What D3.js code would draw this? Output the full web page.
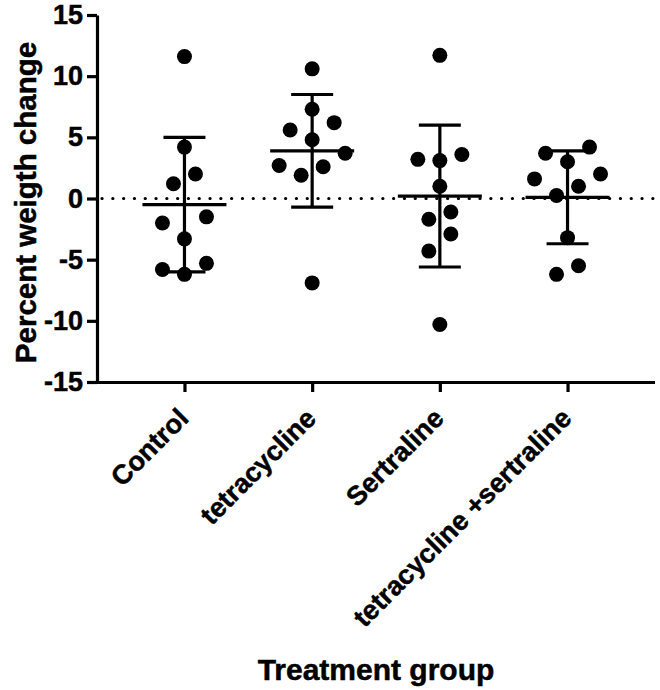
<!DOCTYPE html>
<html>
<head>
<meta charset="utf-8">
<script src="https://cdn.jsdelivr.net/npm/d3@7"></script>
<style>
  html, body { margin: 0; padding: 0; background: #fff; }
  svg { display: block; }
  text { font-family: "Liberation Sans", Arial, Helvetica, sans-serif; font-weight: bold; fill: #000; stroke: #000; stroke-width: 0.5px; }
</style>
</head>
<body>
<svg id="chart" width="660" height="690"></svg>
<script>
// ---- data ----
const categories = ["Control", "tetracycline", "Sertraline", "tetracycline +sertraline"];
const controlValues = [11.6, 4.2, 2.0, 1.2, -1.5, -2.0, -3.3, -5.3, -5.8, -6.2];
const tetracyclineValues = [10.6, 7.3, 6.2, 5.6, 4.8, 3.7, 2.7, 2.6, 1.9, -6.9];
const sertralineValues = [11.7, 3.6, 3.2, 3.1, 1.0, -1.1, -1.7, -2.9, -4.3, -10.3];
const comboValues = [4.2, 3.7, 3.0, 2.0, 1.6, 1.0, 0.25, -3.2, -5.5, -6.2];
const groupMeans = [-0.5, 3.9, 0.2, 0.1];
const groupSDs = [5.5, 4.6, 5.8, 3.8];
const yTicks = [-15, -10, -5, 0, 5, 10, 15];
const yLabel = "Percent weigth change";
const xLabel = "Treatment group";

const seriesValues = [controlValues, tetracyclineValues, sertralineValues, comboValues];

// ---- layout ----
const svg = d3.select("#chart");
const plotLeft = 97, plotRight = 655, plotTop = 15, plotBottom = 382;

const x = d3.scalePoint().domain(categories).range([plotLeft, plotRight]).padding(0.685);
const y = d3.scaleLinear().domain([-15, 15]).range([plotBottom, plotTop]);

const dotR = 7.5;
const laneGap = 22;    // horizontal gap between dots within a row
const rowSpan = 23;    // pixel span that groups dots into one row

// Column-scatter layout: group ascending values into rows, fill each row from the centre outward
function swarm(values) {
  const sorted = values.map((v, i) => ({ v, i })).sort((a, b) => a.v - b.v);
  const rows = [];
  let cur = [];
  sorted.forEach(p => {
    if (cur.length && (y(cur[0].v) - y(p.v)) >= rowSpan) { rows.push(cur); cur = []; }
    cur.push(p);
  });
  if (cur.length) rows.push(cur);
  const out = [];
  rows.forEach(row => {
    const n = row.length;
    const offs = d3.range(n).map(k => (k - (n - 1) / 2) * laneGap)
      .sort((a, b) => (Math.abs(a) - Math.abs(b)) || (a - b));
    row.forEach((p, k) => out.push({ v: p.v, dx: offs[k] }));
  });
  return out;
}

// zero dotted line
svg.append("line")
  .attr("x1", plotLeft + 5).attr("x2", plotRight)
  .attr("y1", y(0)).attr("y2", y(0))
  .attr("stroke", "#000").attr("stroke-width", 3.2)
  .attr("stroke-linecap", "round")
  .attr("stroke-dasharray", "0.1,10.7");

// points
categories.forEach((c, gi) => {
  const pts = swarm(seriesValues[gi]);
  svg.append("g").selectAll("circle").data(pts).join("circle")
    .attr("cx", d => x(c) + d.dx)
    .attr("cy", d => y(d.v))
    .attr("r", dotR)
    .attr("fill", "#000");
});

// mean and SD bars
const eb = svg.append("g").attr("stroke", "#000").attr("stroke-width", 3.2).attr("fill", "none");
categories.forEach((c, gi) => {
  const cx = x(c), m = groupMeans[gi], s = groupSDs[gi];
  eb.append("line").attr("x1", cx).attr("x2", cx).attr("y1", y(m + s)).attr("y2", y(m - s));
  eb.append("line").attr("x1", cx - 21).attr("x2", cx + 21).attr("y1", y(m + s)).attr("y2", y(m + s));
  eb.append("line").attr("x1", cx - 21).attr("x2", cx + 21).attr("y1", y(m - s)).attr("y2", y(m - s));
  eb.append("line").attr("x1", cx - 42).attr("x2", cx + 42).attr("y1", y(m)).attr("y2", y(m));
});

// y axis
const yAxis = svg.append("g").attr("transform", `translate(${plotLeft},0)`)
  .call(d3.axisLeft(y).tickValues(yTicks).tickSize(10).tickSizeOuter(0).tickPadding(4).tickFormat(d => String(d)));
yAxis.select(".domain").attr("stroke-width", 3.2);
yAxis.selectAll(".tick line").attr("stroke-width", 3.2);
yAxis.selectAll(".tick text").style("font-size", "27px").attr("font-family", null).attr("fill", null);

// x axis
const xAxis = svg.append("g").attr("transform", `translate(0,${plotBottom})`)
  .call(d3.axisBottom(x).tickSize(10).tickSizeOuter(0));
xAxis.select(".domain").attr("stroke-width", 3.2)
  .attr("d", `M${plotLeft - 1.5},0.5H${plotRight}`);
xAxis.selectAll(".tick line").attr("stroke-width", 3.2);
xAxis.selectAll(".tick text")
  .attr("y", 0).attr("dy", 0).attr("x", 0)
  .attr("text-anchor", "end")
  .attr("transform", "translate(5,38) rotate(-45)")
  .style("font-size", "27px").attr("font-family", null).attr("fill", null);

// axis titles
svg.append("text")
  .attr("transform", `translate(36,${(42 + 363) / 2}) rotate(-90)`)
  .attr("text-anchor", "middle")
  .style("font-size", "29.5px")
  .text(yLabel);

svg.append("text")
  .attr("x", (plotLeft + plotRight) / 2).attr("y", 680)
  .attr("text-anchor", "middle")
  .style("font-size", "30px")
  .text(xLabel);
</script>
</body>
</html>
